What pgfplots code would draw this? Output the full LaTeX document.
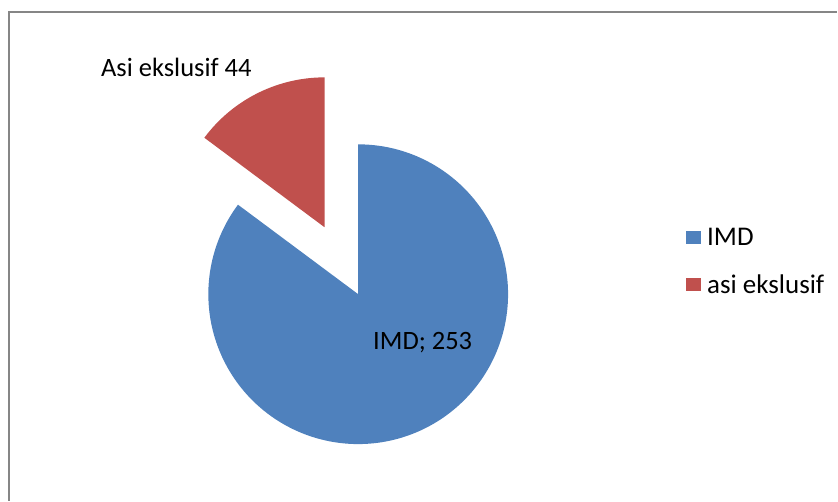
\documentclass[border=0pt]{standalone}
\usepackage{pgfplots}
\usepackage{pgfplotstable}
\pgfplotsset{compat=1.18}
\usepackage{fontspec}
\setmainfont{Carlito}
\definecolor{imdblue}{HTML}{4F81BD}
\definecolor{asired}{HTML}{C0504D}
\definecolor{framegray}{HTML}{868686}

\pgfplotstableread{
label value
IMD 253
asi 44
}\piedata

\begin{document}
\begin{tikzpicture}
\pgfplotstablegetelem{0}{value}\of\piedata \let\vIMD\pgfplotsretval
\pgfplotstablegetelem{1}{value}\of\piedata \let\vASI\pgfplotsretval
\pgfmathsetmacro{\total}{\vIMD+\vASI}
\pgfmathsetmacro{\aASI}{360*\vASI/\total}
\pgfmathsetmacro{\startASI}{90}
\pgfmathsetmacro{\endASI}{90+\aASI}
\pgfmathsetmacro{\endIMD}{450}
\pgfmathsetmacro{\midASI}{90+\aASI/2}
\pgfmathsetmacro{\dx}{0.5*cos(\midASI)}
\pgfmathsetmacro{\dy}{0.5*sin(\midASI)}
\begin{axis}[
  x=150pt, y=150pt,
  xmin=-2.39, xmax=3.197,
  ymin=-1.377, ymax=1.963,
  hide axis, clip=false, scale only axis,
  legend style={at={(axis cs:2.187,0.44)}, anchor=north west, draw=none, fill=none,
    font=\fontsize{27}{31}\selectfont, row sep=27.5pt, inner sep=0pt,
    nodes={inner xsep=6pt, inner ysep=0pt}},
  legend cell align=left,
]
\path (rel axis cs:0,0) rectangle (rel axis cs:1,1);
\addplot[fill=imdblue, draw=none, domain=\endASI:\endIMD, samples=200, variable=\t,
  area legend, legend image code/.code={\fill[imdblue] (0pt,-6.5pt) rectangle (15pt,6.5pt);}]
  ({cos(t)},{sin(t)}) -- (axis cs:0,0) -- cycle;
\addlegendentry{IMD}
\addplot[fill=asired, draw=none, domain=\startASI:\endASI, samples=80, variable=\t,
  area legend, legend image code/.code={\fill[asired] (0pt,-6.5pt) rectangle (15pt,6.5pt);}]
  ({\dx+cos(t)},{\dy+sin(t)}) -- (axis cs:\dx,\dy) -- cycle;
\addlegendentry{asi ekslusif}
\node[anchor=base west, inner sep=0pt, font=\fontsize{26.5}{31}\selectfont] at (axis cs:-1.7167,1.452) {Asi ekslusif 44};
\node[anchor=base west, inner sep=0pt, font=\fontsize{26.5}{31}\selectfont] at (axis cs:0.0987,-0.37) {IMD; 253};
\draw[framegray, line width=1.3pt] (axis cs:-2.33,-1.377) |- (axis cs:3.197,1.883);
\end{axis}
\end{tikzpicture}
\end{document}
